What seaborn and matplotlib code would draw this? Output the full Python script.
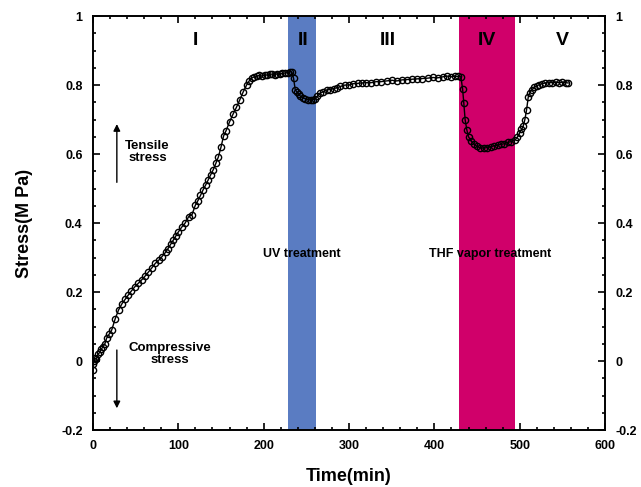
import numpy as np
import pandas as pd
import matplotlib
matplotlib.use('Agg')
import matplotlib.pyplot as plt
import seaborn as sns
from matplotlib.ticker import MultipleLocator, FormatStrFormatter

# stress vs time
time_min = [0, 0.5, 1.5, 2.5, 4, 6, 8, 10, 12, 14, 16, 19, 22, 26, 30, 34, 38, 41, 45, 49,
            53, 57, 61, 65, 69, 73, 77, 81, 85, 88, 91, 94, 97, 100, 104, 108, 112, 116, 120, 123,
            126, 129, 132, 135, 138, 141, 144, 147, 150, 153, 156, 160, 164, 168, 172, 176, 180, 183, 186, 189,
            192, 195, 198, 201, 204, 207, 210, 213, 216, 219, 222, 225, 228, 231, 233, 235, 237, 239, 241, 243,
            246, 249, 252, 255, 258, 260, 263, 266, 270, 274, 278, 282, 286, 290, 295, 300, 305, 310, 315, 320,
            326, 332, 338, 344, 350, 356, 362, 368, 374, 380, 386, 392, 398, 404, 410, 415, 420, 424, 428, 431,
            433, 434.5, 436, 438, 440, 443, 446, 450, 454, 458, 462, 466, 470, 474, 478, 482, 486, 490, 494, 497,
            500, 502, 504, 506, 508, 510, 512, 514, 517, 520, 523, 526, 530, 534, 538, 542, 546, 550, 554, 557]
stress_mpa = [-0.025, -0.01, 0.0, 0.008, 0.005, 0.02, 0.025, 0.035, 0.042, 0.05, 0.066, 0.078, 0.09, 0.122, 0.148, 0.166, 0.18, 0.19, 0.203, 0.215,
              0.225, 0.235, 0.246, 0.258, 0.27, 0.283, 0.292, 0.303, 0.315, 0.326, 0.338, 0.35, 0.362, 0.374, 0.388, 0.40, 0.418, 0.424, 0.452, 0.465,
              0.48, 0.496, 0.51, 0.525, 0.54, 0.555, 0.573, 0.592, 0.62, 0.652, 0.668, 0.693, 0.715, 0.735, 0.757, 0.78, 0.80, 0.812, 0.82, 0.824,
              0.826, 0.828, 0.826, 0.83, 0.829, 0.831, 0.832, 0.83, 0.833, 0.832, 0.834, 0.835, 0.836, 0.839, 0.838, 0.82, 0.786, 0.78, 0.773, 0.768,
              0.763, 0.76, 0.758, 0.757, 0.758, 0.76, 0.768, 0.776, 0.781, 0.786, 0.787, 0.79, 0.792, 0.796, 0.80, 0.80, 0.804, 0.805, 0.806, 0.807,
              0.807, 0.81, 0.81, 0.812, 0.814, 0.812, 0.815, 0.816, 0.817, 0.818, 0.819, 0.82, 0.822, 0.821, 0.824, 0.826, 0.824, 0.826, 0.825, 0.824,
              0.79, 0.747, 0.70, 0.67, 0.65, 0.638, 0.63, 0.622, 0.618, 0.617, 0.619, 0.621, 0.624, 0.626, 0.628, 0.63, 0.634, 0.636, 0.64, 0.648,
              0.662, 0.672, 0.68, 0.70, 0.728, 0.766, 0.778, 0.786, 0.793, 0.798, 0.801, 0.804, 0.806, 0.807, 0.807, 0.808, 0.807, 0.808, 0.807, 0.806]

# treatment windows (min)
uv_window = (229, 261)
thf_window = (429, 494)

stage_labels = ['I', 'II', 'III', 'IV', 'V']
stage_x = [120, 246, 345, 462, 550]

df = pd.DataFrame({'Time': time_min, 'Stress': stress_mpa})

sns.set_style('ticks')
plt.rcParams['font.family'] = ['Liberation Sans', 'DejaVu Sans']
plt.rcParams['font.weight'] = 'bold'
plt.rcParams.update({'text.color': 'black', 'axes.labelcolor': 'black',
                     'xtick.color': 'black', 'ytick.color': 'black',
                     'axes.edgecolor': 'black'})

fig = plt.figure(figsize=(6.41, 4.87), dpi=100)
ax = fig.add_axes([0.145, 0.117, 0.799, 0.85])

ax.axvspan(*uv_window, color='#5a7cc2', lw=0, zorder=0)
ax.axvspan(*thf_window, color='#d0006a', lw=0, zorder=0)

sns.lineplot(data=df, x='Time', y='Stress', ax=ax, color='black', lw=1.0,
             marker='o', markersize=4.5, markerfacecolor='none',
             markeredgecolor='black', markeredgewidth=1.0)

ax.set_xlim(0, 600)
ax.set_ylim(-0.2, 1.0)
ax.xaxis.set_major_locator(MultipleLocator(100))
ax.xaxis.set_minor_locator(MultipleLocator(20))
ax.yaxis.set_major_locator(MultipleLocator(0.2))
ax.yaxis.set_minor_locator(MultipleLocator(0.05))
ax.yaxis.set_major_formatter(FormatStrFormatter('%g'))
ax.tick_params(which='both', direction='in', top=True, right=True, labelright=True,
               width=1.2, labelsize=9)
ax.tick_params(axis='y', which='major', length=5, pad=7.5)
ax.tick_params(axis='x', which='major', length=5, pad=7)
ax.tick_params(which='minor', length=2.5)
for lab in ax.get_xticklabels() + ax.yaxis.get_ticklabels(which='major'):
    lab.set_fontweight('bold')
for sp in ax.spines.values():
    sp.set_linewidth(1.4)

ax.set_xlabel('Time(min)', fontsize=13, fontweight='bold', labelpad=12)
ax.set_ylabel('Stress(M Pa)', fontsize=13, fontweight='bold', labelpad=20)

for lab, xs in zip(stage_labels, stage_x):
    ax.text(xs, 0.93, lab, ha='center', va='center', fontsize=14, fontweight='bold')

ax.text(245, 0.31, 'UV treatment', ha='center', va='center', fontsize=9, fontweight='bold')
ax.text(465, 0.31, 'THF vapor treatment', ha='center', va='center', fontsize=9, fontweight='bold')

ax.annotate('', xy=(28, 0.695), xytext=(28, 0.51),
            arrowprops=dict(arrowstyle='-|>', color='black', lw=1.0, mutation_scale=10))
ax.text(64, 0.605, 'Tensile\nstress', ha='center', va='center', fontsize=9.5, fontweight='bold', linespacing=1.0)
ax.annotate('', xy=(28, -0.145), xytext=(28, 0.04),
            arrowprops=dict(arrowstyle='-|>', color='black', lw=1.0, mutation_scale=10))
ax.text(90, 0.02, 'Compressive\nstress', ha='center', va='center', fontsize=9.5, fontweight='bold', linespacing=1.0)

fig.savefig('out.png', dpi=100)
